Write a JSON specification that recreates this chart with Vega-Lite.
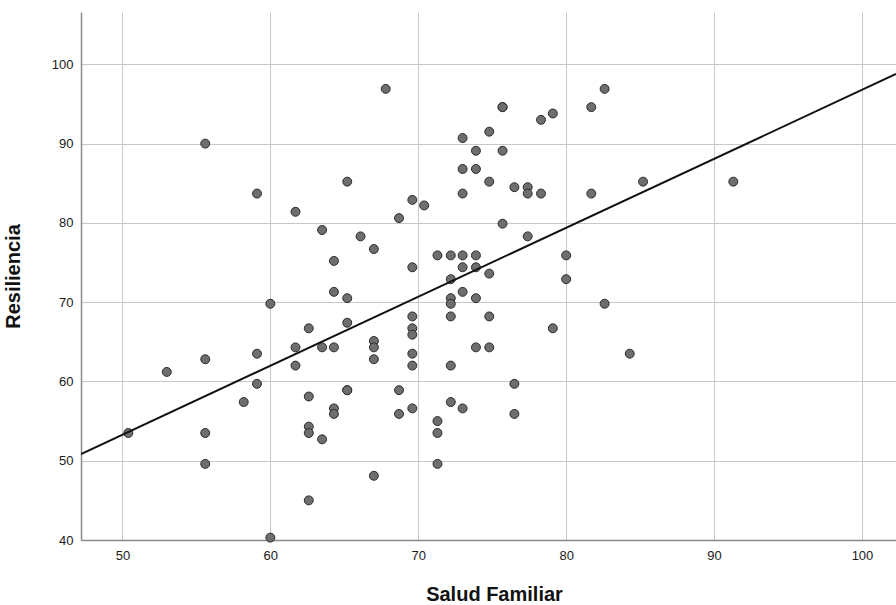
{
  "$schema": "https://vega.github.io/schema/vega-lite/v6.json",
  "width": 815,
  "height": 528,
  "autosize": "none",
  "padding": {"left": 81, "top": 12, "right": 0, "bottom": 65},
  "background": "white",
  "config": {
    "view": {"stroke": null},
    "font": "Liberation Sans",
    "axis": {
      "grid": true,
      "gridColor": "#c8c8c8",
      "gridWidth": 1,
      "ticks": false,
      "domainColor": "#8a8a8a",
      "domainWidth": 1.5,
      "labelFont": "Liberation Sans",
      "labelFontSize": 13,
      "labelColor": "#1a1a1a",
      "titleFont": "Liberation Sans",
      "titleFontSize": 20,
      "titleFontWeight": "bold",
      "titleColor": "#111111"
    }
  },
  "datasets": {
    "pts": [
      {"salud": 55.6, "resiliencia": 90.0},
      {"salud": 59.1, "resiliencia": 83.7},
      {"salud": 61.7, "resiliencia": 81.4},
      {"salud": 65.2, "resiliencia": 85.2},
      {"salud": 63.5, "resiliencia": 79.1},
      {"salud": 66.1, "resiliencia": 78.3},
      {"salud": 67.0, "resiliencia": 76.7},
      {"salud": 64.3, "resiliencia": 75.2},
      {"salud": 67.8, "resiliencia": 96.9},
      {"salud": 75.7, "resiliencia": 94.6},
      {"salud": 75.7, "resiliencia": 94.6},
      {"salud": 79.1, "resiliencia": 93.8},
      {"salud": 78.3, "resiliencia": 93.0},
      {"salud": 81.7, "resiliencia": 94.6},
      {"salud": 82.6, "resiliencia": 96.9},
      {"salud": 74.8, "resiliencia": 91.5},
      {"salud": 73.0, "resiliencia": 90.7},
      {"salud": 73.9, "resiliencia": 89.1},
      {"salud": 75.7, "resiliencia": 89.1},
      {"salud": 73.0, "resiliencia": 86.8},
      {"salud": 73.9, "resiliencia": 86.8},
      {"salud": 74.8, "resiliencia": 85.2},
      {"salud": 76.5, "resiliencia": 84.5},
      {"salud": 77.4, "resiliencia": 84.5},
      {"salud": 77.4, "resiliencia": 83.7},
      {"salud": 78.3, "resiliencia": 83.7},
      {"salud": 81.7, "resiliencia": 83.7},
      {"salud": 85.2, "resiliencia": 85.2},
      {"salud": 73.0, "resiliencia": 83.7},
      {"salud": 69.6, "resiliencia": 82.9},
      {"salud": 70.4, "resiliencia": 82.2},
      {"salud": 68.7, "resiliencia": 80.6},
      {"salud": 69.6, "resiliencia": 74.4},
      {"salud": 75.7, "resiliencia": 79.9},
      {"salud": 77.4, "resiliencia": 78.3},
      {"salud": 80.0, "resiliencia": 75.9},
      {"salud": 80.0, "resiliencia": 72.9},
      {"salud": 71.3, "resiliencia": 75.9},
      {"salud": 72.2, "resiliencia": 75.9},
      {"salud": 73.0, "resiliencia": 75.9},
      {"salud": 73.9, "resiliencia": 75.9},
      {"salud": 73.0, "resiliencia": 74.4},
      {"salud": 73.9, "resiliencia": 74.4},
      {"salud": 72.2, "resiliencia": 72.9},
      {"salud": 74.8, "resiliencia": 73.6},
      {"salud": 91.3, "resiliencia": 85.2},
      {"salud": 64.3, "resiliencia": 71.3},
      {"salud": 65.2, "resiliencia": 70.5},
      {"salud": 60.0, "resiliencia": 69.8},
      {"salud": 65.2, "resiliencia": 67.4},
      {"salud": 62.6, "resiliencia": 66.7},
      {"salud": 61.7, "resiliencia": 64.3},
      {"salud": 63.5, "resiliencia": 64.3},
      {"salud": 64.3, "resiliencia": 64.3},
      {"salud": 67.0, "resiliencia": 65.1},
      {"salud": 67.0, "resiliencia": 64.3},
      {"salud": 67.0, "resiliencia": 62.8},
      {"salud": 59.1, "resiliencia": 63.5},
      {"salud": 55.6, "resiliencia": 62.8},
      {"salud": 53.0, "resiliencia": 61.2},
      {"salud": 61.7, "resiliencia": 62.0},
      {"salud": 59.1, "resiliencia": 59.7},
      {"salud": 58.2, "resiliencia": 57.4},
      {"salud": 62.6, "resiliencia": 58.1},
      {"salud": 65.2, "resiliencia": 58.9},
      {"salud": 65.2, "resiliencia": 58.9},
      {"salud": 64.3, "resiliencia": 56.6},
      {"salud": 64.3, "resiliencia": 55.9},
      {"salud": 62.6, "resiliencia": 54.3},
      {"salud": 62.6, "resiliencia": 53.5},
      {"salud": 63.5, "resiliencia": 52.7},
      {"salud": 50.4, "resiliencia": 53.5},
      {"salud": 55.6, "resiliencia": 53.5},
      {"salud": 55.6, "resiliencia": 49.6},
      {"salud": 67.0, "resiliencia": 48.1},
      {"salud": 62.6, "resiliencia": 45.0},
      {"salud": 60.0, "resiliencia": 40.3},
      {"salud": 72.2, "resiliencia": 70.5},
      {"salud": 72.2, "resiliencia": 69.8},
      {"salud": 73.0, "resiliencia": 71.3},
      {"salud": 73.9, "resiliencia": 70.5},
      {"salud": 72.2, "resiliencia": 68.2},
      {"salud": 74.8, "resiliencia": 68.2},
      {"salud": 69.6, "resiliencia": 68.2},
      {"salud": 69.6, "resiliencia": 66.7},
      {"salud": 69.6, "resiliencia": 65.9},
      {"salud": 69.6, "resiliencia": 63.5},
      {"salud": 69.6, "resiliencia": 62.0},
      {"salud": 72.2, "resiliencia": 62.0},
      {"salud": 73.9, "resiliencia": 64.3},
      {"salud": 74.8, "resiliencia": 64.3},
      {"salud": 79.1, "resiliencia": 66.7},
      {"salud": 82.6, "resiliencia": 69.8},
      {"salud": 84.3, "resiliencia": 63.5},
      {"salud": 76.5, "resiliencia": 59.7},
      {"salud": 76.5, "resiliencia": 55.9},
      {"salud": 68.7, "resiliencia": 58.9},
      {"salud": 68.7, "resiliencia": 55.9},
      {"salud": 69.6, "resiliencia": 56.6},
      {"salud": 72.2, "resiliencia": 57.4},
      {"salud": 73.0, "resiliencia": 56.6},
      {"salud": 71.3, "resiliencia": 55.0},
      {"salud": 71.3, "resiliencia": 53.5},
      {"salud": 71.3, "resiliencia": 49.6}
    ],
    "fit": [
      {"salud": 47.2, "resiliencia": 50.84},
      {"salud": 102.3, "resiliencia": 98.78}
    ]
  },
  "layer": [
    {
      "data": {"name": "pts"},
      "mark": {"type": "point", "shape": "circle", "filled": true, "size": 80, "fill": "#6e6e6e", "stroke": "#2b2b2b", "strokeWidth": 1, "opacity": 1, "fillOpacity": 1},
      "encoding": {
        "x": {
          "field": "salud", "type": "quantitative",
          "scale": {"domain": [47.2, 102.3], "nice": false, "zero": false},
          "axis": {"title": "Salud Familiar", "values": [50, 60, 70, 80, 90, 100], "labelPadding": 9, "titlePadding": 22, "titleX": 413}
        },
        "y": {
          "field": "resiliencia", "type": "quantitative",
          "scale": {"domain": [40, 106.6], "nice": false, "zero": false},
          "axis": {"title": "Resiliencia", "values": [40, 50, 60, 70, 80, 90, 100], "labelPadding": 8, "titlePadding": 28}
        }
      }
    },
    {
      "data": {"name": "fit"},
      "mark": {"type": "line", "color": "#111111", "strokeWidth": 2, "clip": true},
      "encoding": {
        "x": {"field": "salud", "type": "quantitative"},
        "y": {"field": "resiliencia", "type": "quantitative"}
      }
    }
  ]
}
